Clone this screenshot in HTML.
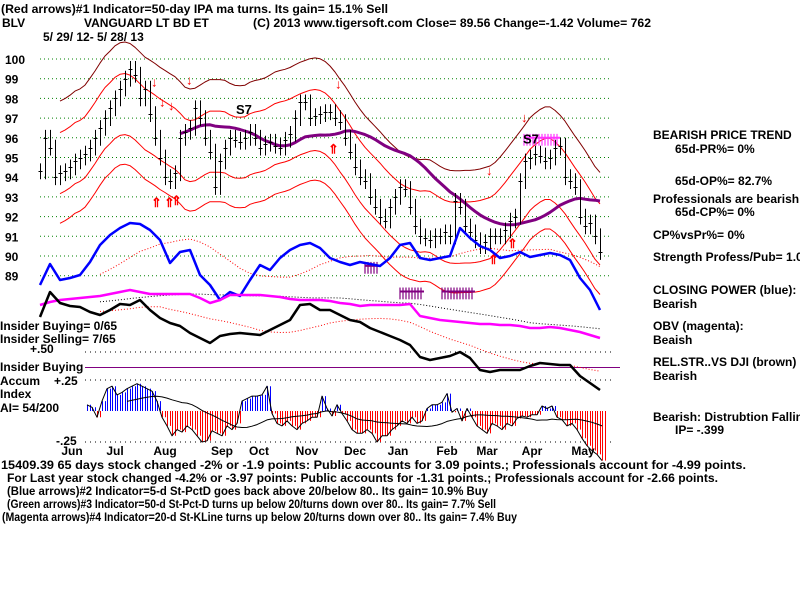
<!DOCTYPE html>
<html><head><meta charset="utf-8"><style>
html,body{margin:0;padding:0;background:#fff;}
svg text{font-family:"Liberation Sans",sans-serif;font-weight:bold;font-size:12px;fill:#000;}
</style></head><body>
<svg id="chart" xmlns="http://www.w3.org/2000/svg" width="800" height="600" viewBox="0 0 800 600">
<rect width="800" height="600" fill="#fff"/>
<g id="grid"></g>
<g id="marks"></g>
<g id="labels">
<text x="1" y="13" textLength="387" lengthAdjust="spacingAndGlyphs">(Red arrows)#1 Indicator=50-day IPA ma turns. Its gain= 15.1% Sell</text>
<text x="2" y="27">BLV</text>
<text x="84" y="27">VANGUARD LT BD ET</text>
<text x="253" y="27" textLength="398" lengthAdjust="spacingAndGlyphs">(C) 2013 www.tigersoft.com      Close=  89.56   Change=-1.42  Volume= 762</text>
<text x="43" y="41">5/ 29/ 12- 5/ 28/ 13</text>
<text x="653" y="139">BEARISH PRICE TREND</text>
<text x="675" y="153">65d-PR%= 0%</text>
<text x="675" y="185">65d-OP%= 82.7%</text>
<text x="653" y="203">Professionals are bearish</text>
<text x="675" y="216">65d-CP%= 0%</text>
<text x="653" y="239">CP%vsPr%=  0%</text>
<text x="653" y="261">Strength Profess/Pub= 1.0</text>
<text x="653" y="294">CLOSING POWER (blue):</text>
<text x="653" y="308">Bearish</text>
<text x="653" y="330">OBV (magenta):</text>
<text x="653" y="344">Beaish</text>
<text x="653" y="366">REL.STR..VS DJI (brown)</text>
<text x="653" y="380">Bearish</text>
<text x="653" y="421">Bearish: Distrubtion Falling</text>
<text x="675" y="434">IP= -.399</text>
<text x="0" y="330">Insider Buying= 0/65</text>
<text x="0" y="343">Insider Selling= 7/65</text>
<text x="30" y="353">+.50</text>
<text x="0" y="371">Insider Buying</text>
<text x="0" y="385">Accum</text>
<text x="54" y="385">+.25</text>
<text x="0" y="398">Index</text>
<text x="0" y="412">AI= 54/200</text>
<text x="56" y="445">-.25</text>
<text x="1" y="469" textLength="745" lengthAdjust="spacingAndGlyphs">15409.39 65 days stock changed -2% or -1.9 points:  Public accounts for  3.09 points.;  Professionals account for -4.99 points.</text>
<text x="7" y="482" textLength="711" lengthAdjust="spacingAndGlyphs">For Last year stock changed -4.2% or -3.97 points:  Public accounts for -1.31 points.;  Professionals account for -2.66 points.</text>
<text x="7" y="495" textLength="481" lengthAdjust="spacingAndGlyphs">(Blue arrows)#2 Indicator=5-d St-PctD goes back above 20/below 80.. Its gain= 10.9% Buy</text>
<text x="7" y="508" textLength="489" lengthAdjust="spacingAndGlyphs">(Green arrows)#3 Indicator=50-d St-Pct-D turns up below 20/turns down over 80.. Its gain= 7.7% Sell</text>
<text x="2" y="521" textLength="515" lengthAdjust="spacingAndGlyphs">(Magenta arrows)#4 Indicator=20-d St-KLine turns up below 20/turns down over 80.. Its gain= 7.4% Buy</text>
</g>
</svg>
<script>
const priceTicks = [100,99,98,97,96,95,94,93,92,91,90,89];
const months = ["Jun","Jul","Aug","Sep","Oct","Nov","Dec","Jan","Feb","Mar","Apr","May"];
const monthIdx = [6.4,15,25,36.4,43.8,53.4,63,71.6,81.4,89.4,98.4,108.6];
const closes = [94.3,96,95.5,94,94.2,94.3,94.5,94.8,95,95.2,95.5,96,96.5,97,97.5,98,98.5,99,99.5,99.2,98,98.5,97.2,96,95,94,93.8,94.2,96,96.3,96.5,97.5,97,96,95.3,93.5,94.8,95.5,96,95.9,95.8,96,96.3,96,95.5,95.7,95.8,95.6,95.5,95.9,96.2,97,97.8,97.8,97,97.1,97.2,97.3,97.3,97,96.8,96,95.3,94.5,94,93.8,93,92.5,92,91.8,92.5,93,93.5,93.4,92.5,91.5,91,90.9,90.8,91,91,91.2,91,92.8,92.5,91.5,91.2,90.8,90.5,90.7,91,91,91,91.3,91.8,92,93.8,94.8,95,95.2,95.1,94.8,95,95.5,95.6,94,93.8,93.5,92,91.5,91.7,91,90.2];
const closingPower = [65,86,70,72,75,88,105,115,122,127,126,120,110,87,98,100,75,65,50,58,54,70,85,80,92,100,105,107,102,92,88,85,88,86,84,92,105,107,92,90,92,94,122,112,104,100,92,94,98,93,95,97,95,90,72,60,40];
const obv = [45,48,50,51,52,53,54,56,58,60,58,56,56,56,56,56,52,47,50,55,55,55,55,54,53,51,50,50,50,49,47,46,44,45,45,45,45,46,34,32,30,29,28,27,26,26,25,25,24,22,22,23,22,20,18,15,12];
const relStrength = [83,108,97,94,93,88,85,90,96,95,100,90,82,77,74,67,62,57,64,66,67,66,65,70,75,80,95,96,90,90,85,80,78,72,68,64,60,55,43,40,42,44,48,42,30,28,30,30,30,34,37,36,35,35,24,17,10];
const accumIndex = [0.05,0.03,-0.05,0.08,0.18,0.2,0.13,0.15,0.18,0.2,0.22,0.2,0.18,0.16,0.08,-0.05,-0.12,-0.2,-0.15,-0.17,-0.12,-0.15,-0.2,-0.25,-0.24,-0.16,-0.18,-0.2,-0.12,-0.15,-0.1,0.08,0.1,0.12,0.12,0.13,0.2,-0.02,-0.1,-0.12,-0.08,-0.12,-0.15,-0.1,-0.08,-0.05,-0.05,0.12,0.02,-0.04,0.05,-0.02,-0.08,-0.15,-0.18,-0.18,-0.15,-0.18,-0.25,-0.2,-0.2,-0.15,-0.12,-0.08,-0.1,-0.05,-0.1,-0.08,0.02,0.05,0.05,0.07,0.14,-0.01,0.02,-0.08,0.02,-0.05,-0.12,-0.15,-0.18,-0.1,-0.12,-0.15,-0.1,-0.12,-0.06,-0.04,-0.05,-0.03,-0.03,0.04,0.02,0.04,-0.05,-0.07,-0.12,-0.1,-0.15,-0.22,-0.28,-0.32,-0.35,-0.4];
const redDownArrows = [[23,98.6],[24.6,97.6],[26.4,97.4],[30,98.7],[59.8,98.5],[97,96.8],[90,94.1]];
const redUpArrows = [[23,92.5],[25.6,92.5],[27,92.6],[58.4,95.2],[94.2,90.4],[90.4,89.6]];
const magentaClusters = [[65,89.7,5],[72,88.4,8],[80.4,88.4,11],[96.8,96.2,12]];

const NS="http://www.w3.org/2000/svg";
const grid=document.getElementById('grid'), marks=document.getElementById('marks');
function xD(i){return 40+i*5;}
function yP(v){return 59+(100-v)*19.7;}
function yCP(v){return 350-v;}
function yOBV(v){return 350-v;}
function yRS(v){return 400-v;}
function yAI(v){return 411-v*124;}
function mk(tag,attrs,parent){const e=document.createElementNS(NS,tag);for(const k in attrs)e.setAttribute(k,attrs[k]);(parent||marks).appendChild(e);return e;}
function line(pts,stroke,w,dash){return mk('polyline',{points:pts.map(p=>p[0].toFixed(1)+','+p[1].toFixed(1)).join(' '),fill:'none',stroke:stroke,'stroke-width':w,'stroke-dasharray':dash||'none','stroke-linejoin':'round'});}

priceTicks.forEach(v=>{
  const g=mk('line',{x1:40,x2:612,y1:yP(v),y2:yP(v),stroke:'#008000','stroke-width':1,'stroke-dasharray':'1,3'},grid);
  
  
  const t=mk('text',{x:5,y:yP(v)+5},grid);t.textContent=v;
  
  
});
[352,380,442].forEach(y=>{
  const l=mk('line',{x1:85,x2:612,y1:y,y2:y,stroke:'#000','stroke-width':1,'stroke-dasharray':'1,4'},grid);
  
  
});
const ib=mk('line',{x1:85,x2:620,y1:367.5,y2:367.5,stroke:'#800080','stroke-width':1},grid);



function ma(arr,i,n,centered){let s=0,c=0;const a=centered?i-Math.floor(n/2):i-n+1;for(let k=a;k<a+n;k++){const kk=Math.max(0,Math.min(arr.length-1,k));s+=arr[kk];c++;}return s/c;}
const bandU=[],bandL=[],outU=[],outL=[],ma50=[];
for(let i=4;i<closes.length;i++){const m=ma(closes,i,13,true);bandU.push([xD(i),yP(m+1.5)]);bandL.push([xD(i),yP(m-1.6)]);outU.push([xD(i),yP(m+3.1)]);outL.push([xD(i),yP(m-3.1)]);}
for(let i=28;i<closes.length;i++){ma50.push([xD(i),yP(ma(closes,i,26,false))]);}
let e;
e=line(outU,'#800000',1);
e=line(outL,'#ff0000',1);
e=line(bandU,'#ff0000',1);
e=line(bandL,'#ff0000',1);
e=line(ma50,'#800080',3);

closes.forEach((c,i)=>{
  const prev=i>0?closes[i-1]:c;
  const hi=Math.max(c,prev)+0.4, lo=Math.min(c,prev)-0.4;
  const x=xD(i)+0.5;
  const b=mk('path',{d:`M${x},${yP(hi).toFixed(1)}V${yP(lo).toFixed(1)}M${x-2},${Math.round(yP(c))+0.5}h4`,stroke:'#000','stroke-width':1,fill:'none'});
  
  
});

redDownArrows.forEach(a=>{const t=mk('text',{x:xD(a[0])-4,y:yP(a[1]),style:'fill:#ff0000;font-size:13px'});t.textContent='↓';
  });
redUpArrows.forEach(a=>{const t=mk('text',{x:xD(a[0])-4,y:yP(a[1]),style:'fill:#ff0000;font-size:13px'});t.textContent='⇑';
  });
magentaClusters.forEach(a=>{const col=a[1]>95?'#ff33ff':'#800080';for(let k=0;k<a[2];k++){const x=xD(a[0]+k*0.6);const r=mk('line',{x1:x,x2:x,y1:yP(a[1]),y2:yP(a[1]-0.6),stroke:col,'stroke-width':1.2});
  }
  const h=mk('line',{x1:xD(a[0]),x2:xD(a[0]+a[2]*0.6),y1:yP(a[1]-0.2),y2:yP(a[1]-0.2),stroke:col,'stroke-width':2});
  });
[[39.2,97.2],[96.6,95.7]].forEach(a=>{const t=mk('text',{x:xD(a[0]),y:yP(a[1]),style:'font-size:13px'});t.textContent='S7';
  });

const cpPts=closingPower.map((v,i)=>[xD(i*2),yCP(v)]);
const obvPts=obv.map((v,i)=>[xD(i*2),yOBV(v)]);
const rsPts=relStrength.map((v,i)=>[xD(i*2),yRS(v)]);
function sm(arr,fy,n){const o=[];for(let i=6;i<arr.length;i++)o.push([xD(i*2),fy(ma(arr,i,n,false))]);return o;}
e=line(sm(closingPower,yCP,10),'#ff0000',1,'1,2');
e=line(sm(obv,yOBV,12),'#000',1,'1,2');
e=line(sm(relStrength,yRS,12),'#ff0000',1,'1,2');
e=line(cpPts,'#0000ff',2.5);
e=line(obvPts,'#ff00ff',2.5);
e=line(rsPts,'#000',2.5);

const aiStart=9.4;
accumIndex.forEach((v,i)=>{for(let s=0;s<5;s+=3){const x=Math.round(xD(aiStart+i)+s)+0.5;
  const r=mk('line',{x1:x,x2:x,y1:yAI(0),y2:yAI(v),stroke:v>=0?'#0000ff':'#ff0000','stroke-width':1});
  
  }});
e=line(accumIndex.map((v,i)=>[xD(aiStart+i),yAI(v)]),'#000',1);
const aiMa=[];for(let i=8;i<accumIndex.length;i++)aiMa.push([xD(aiStart+i),yAI(ma(accumIndex,i,18,false))]);
e=line(aiMa,'#000',1);

months.forEach((m,i)=>{const t=mk('text',{x:xD(monthIdx[i]),y:455,'text-anchor':'middle'});t.textContent=m;
  });
</script>
</body></html>
